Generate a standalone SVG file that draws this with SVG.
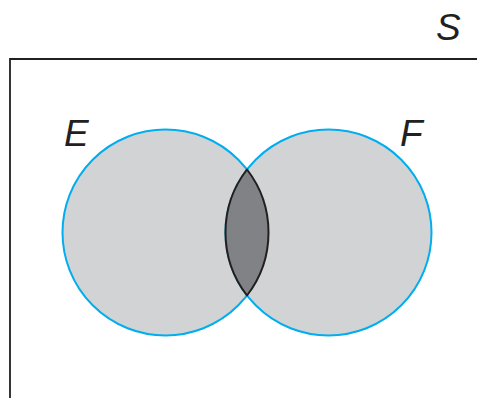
<svg xmlns="http://www.w3.org/2000/svg" width="477" height="398" viewBox="0 0 477 398">
<style>
.set{fill:#d1d3d4;stroke:#00aeef;stroke-width:2}
.lens{fill:#808285;stroke:#231f20;stroke-width:2;stroke-linejoin:round}
.frame{fill:none;stroke:#231f20;stroke-width:1.8}
.lbl{font-family:"Liberation Sans",Arial,sans-serif;font-style:italic;font-size:37px;fill:#231f20}
</style>
<rect width="477" height="398" fill="#ffffff"/>
<g id="universe-S">
<path class="frame" d="M10,398 V59 H477"/>
<text class="lbl" x="436" y="40">S</text>
</g>
<g id="set-E">
<circle class="set" cx="165.5" cy="232.5" r="103"/>
<text class="lbl" x="64" y="146">E</text>
</g>
<g id="set-F">
<circle class="set" cx="328.5" cy="232.5" r="103"/>
<text class="lbl" x="400" y="146">F</text>
</g>
<g id="intersection-EF">
<path class="lens" d="M247,169.5 A103,103 0 0 1 247,295.5 A103,103 0 0 1 247,169.5 Z"/>
</g>
</svg>
